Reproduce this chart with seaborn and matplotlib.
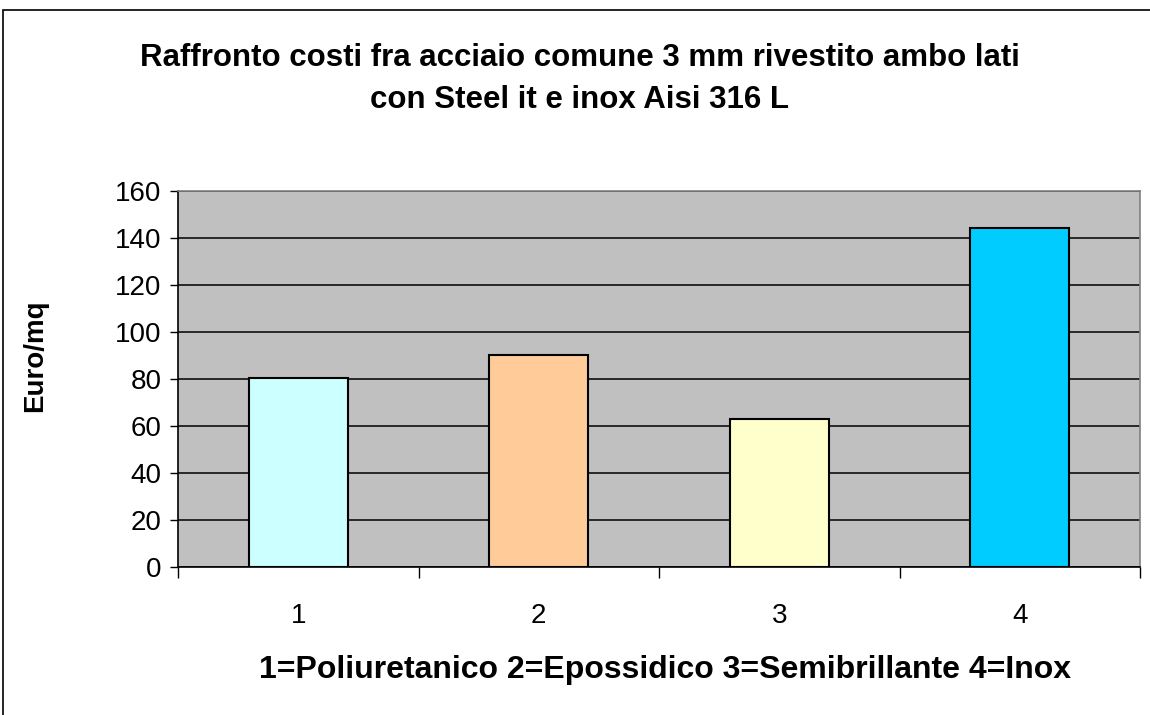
import numpy as np
import pandas as pd
import matplotlib
matplotlib.use("Agg")
import matplotlib.pyplot as plt
import seaborn as sns
from matplotlib.patches import Rectangle

# values
categories = ["1", "2", "3", "4"]
costs = [80.6, 90.3, 63.1, 144.4]
bar_colors = ["#CCFFFF", "#FFCC99", "#FFFFCC", "#00CCFF"]
y_ticks = [0, 20, 40, 60, 80, 100, 120, 140, 160]

title_lines = ["Raffronto costi fra acciaio comune 3 mm rivestito ambo lati",
               "con Steel it e inox Aisi 316 L"]
x_label = "1=Poliuretanico 2=Epossidico 3=Semibrillante 4=Inox"
y_label = "Euro/mq"

df = pd.DataFrame({"cat": categories, "cost": costs})

sns.set_style("white")
plt.rcParams["font.family"] = ["Liberation Sans", "DejaVu Sans"]
plt.rcParams["text.color"] = "black"
plt.rcParams["xtick.color"] = "black"
plt.rcParams["ytick.color"] = "black"

fig = plt.figure(figsize=(11.5, 7.15), dpi=100)
ax = fig.add_axes([178 / 1150, 1 - 567 / 715, (1140 - 178) / 1150, (567 - 191) / 715])
ax.set_facecolor("#C0C0C0")

sns.barplot(data=df, x="cat", y="cost", hue="cat", palette=bar_colors,
            legend=False, width=0.41, edgecolor="black", linewidth=1.5,
            saturation=1, ax=ax, zorder=3)

ax.set_ylim(0, 160)
ax.set_xlim(-0.5, 3.5)
ax.set_yticks(y_ticks)
ax.yaxis.grid(True, color="black", linewidth=1.1, zorder=0)
ax.set_axisbelow(True)

# x tick marks sit between categories, labels under bars
ax.set_xticks(np.arange(len(categories)))
ax.set_xticklabels(categories)
ax.set_xticks(np.arange(-0.5, len(categories)), minor=True)
ax.tick_params(axis="x", which="major", length=0, pad=26, labelsize=20, labelcolor="black")
ax.tick_params(axis="x", which="minor", length=8, width=1, color="black", direction="out")
ax.tick_params(axis="y", length=6, width=1, color="black", direction="out", pad=6,
               labelsize=20, labelcolor="black")
ax.tick_params(left=True, bottom=True, which="both")

for side in ["left", "bottom"]:
    ax.spines[side].set_color("black")
    ax.spines[side].set_linewidth(1.2)
for side in ["top", "right"]:
    ax.spines[side].set_color("#808080")
    ax.spines[side].set_linewidth(1.2)

ax.set_xlabel("")
ax.set_ylabel("")

fig.text(580 / 1150, 1 - 58 / 715, title_lines[0], ha="center", va="center",
         fontsize=22.5, fontweight="bold", color="black")
fig.text(579 / 1150, 1 - 100 / 715, title_lines[1], ha="center", va="center",
         fontsize=22.5, fontweight="bold", color="black")
fig.text(665 / 1150, 1 - 670 / 715, x_label, ha="center", va="center",
         fontsize=23, fontweight="bold", color="black")
fig.text(35 / 1150, 1 - 356 / 715, y_label, ha="center", va="center", fontsize=20,
         fontweight="bold", rotation=90, color="black")

# chart area border
fig.patches.append(Rectangle((3 / 1150, -0.1), 1.2, 1 - 10 / 715 + 0.1,
                             transform=fig.transFigure, fill=False,
                             edgecolor="black", linewidth=1.2))

fig.savefig("out.png", dpi=100)
